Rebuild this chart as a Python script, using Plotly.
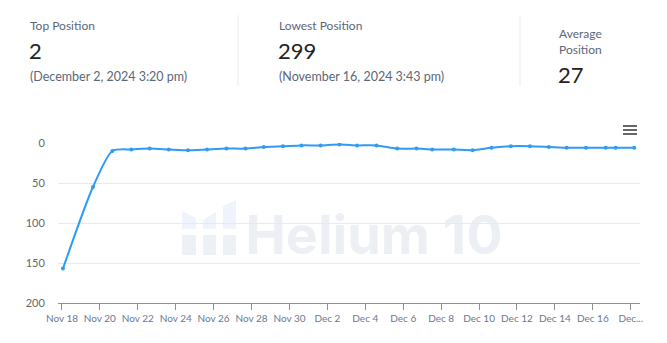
import plotly.graph_objects as go

# ---- data ----
dates = [
    "2024-11-18 01:15", "2024-11-19 15:15", "2024-11-20 15:50", "2024-11-21 15:50",
    "2024-11-22 15:05", "2024-11-23 15:10", "2024-11-24 15:35", "2024-11-25 15:40",
    "2024-11-26 16:15", "2024-11-27 16:20", "2024-11-28 15:25", "2024-11-29 15:50",
    "2024-11-30 15:10", "2024-12-01 15:20", "2024-12-02 15:20", "2024-12-03 13:40",
    "2024-12-04 14:10", "2024-12-05 16:20", "2024-12-06 16:50", "2024-12-07 12:40",
    "2024-12-08 16:05", "2024-12-09 15:50", "2024-12-10 15:50", "2024-12-11 16:20",
    "2024-12-12 16:20", "2024-12-13 16:20", "2024-12-14 14:50", "2024-12-15 15:20",
    "2024-12-16 16:20", "2024-12-17 04:50", "2024-12-18 04:20",
]
positions = [157, 55, 10, 8, 7, 8, 9, 8, 7, 7, 5, 4, 3, 3, 2, 3, 3, 7, 7, 8, 8, 9,
             6, 4, 4, 5, 6, 6, 6, 6, 6]

x_tick_vals = ["2024-11-18", "2024-11-20", "2024-11-22", "2024-11-24", "2024-11-26",
               "2024-11-28", "2024-11-30", "2024-12-02", "2024-12-04", "2024-12-06",
               "2024-12-08", "2024-12-10", "2024-12-12", "2024-12-14", "2024-12-16",
               "2024-12-18"]
x_tick_text = ["Nov 18", "Nov 20", "Nov 22", "Nov 24", "Nov 26", "Nov 28", "Nov 30",
               "Dec 2", "Dec 4", "Dec 6", "Dec 8", "Dec 10", "Dec 12", "Dec 14",
               "Dec 16", "Dec..."]
y_tick_vals = [0, 50, 100, 150, 200]

summary_labels = ["Top Position", "Lowest Position", "Average<br>Position"]
summary_values = ["2", "299", "27"]
summary_notes = ["(December 2, 2024 3:20 pm)", "(November 16, 2024 3:43 pm)", ""]

# ---- layout geometry ----
W, H = 667, 343
ML, MR, MT, MB = 58, 27, 143, 40
PW, PH = W - ML - MR, H - MT - MB


def px(x):
    return (x - ML) / PW


def py(y):
    return (H - MB - y) / PH


FONT = "Lato"
LABEL_C = "#5b6678"
VALUE_C = "#222222"

fig = go.Figure()
fig.add_trace(go.Scatter(
    x=dates, y=positions, mode="lines+markers",
    line=dict(color="#2f9bf2", width=2, shape="spline", smoothing=0.7),
    marker=dict(size=4, color="#2f9bf2"),
    hoverinfo="x+y", showlegend=False,
))

annotations = []
shapes = []

# header
cols_x = [28, 277, 557]
for i in range(3):
    if i < 2:
        annotations.append(dict(x=px(cols_x[i]), y=py(25), xref="paper", yref="paper",
                                text=summary_labels[i], showarrow=False, xanchor="left",
                                yanchor="middle", font=dict(family=FONT, size=12, color=LABEL_C)))
        annotations.append(dict(x=px(cols_x[i] - 1), y=py(50), xref="paper", yref="paper",
                                text=summary_values[i], showarrow=False, xanchor="left",
                                yanchor="middle", font=dict(family=FONT, size=22, color=VALUE_C)))
        annotations.append(dict(x=px(cols_x[i]), y=py(76), xref="paper", yref="paper",
                                text=summary_notes[i], showarrow=False, xanchor="left",
                                yanchor="middle", font=dict(family=FONT, size=12.5, color=LABEL_C)))
    else:
        annotations.append(dict(x=px(cols_x[i]), y=py(41), xref="paper", yref="paper",
                                text=summary_labels[i], showarrow=False, xanchor="left",
                                yanchor="middle", align="left",
                                font=dict(family=FONT, size=12, color=LABEL_C)))
        annotations.append(dict(x=px(cols_x[i] - 1), y=py(74), xref="paper", yref="paper",
                                text=summary_values[i], showarrow=False, xanchor="left",
                                yanchor="middle", font=dict(family=FONT, size=22, color=VALUE_C)))

for sx in (238, 520):
    shapes.append(dict(type="line", xref="paper", yref="paper", x0=px(sx), x1=px(sx),
                       y0=py(15), y1=py(86), line=dict(color="#e8ebef", width=1)))

# menu icon
for yy in (125, 129, 133):
    shapes.append(dict(type="rect", xref="paper", yref="paper", x0=px(623), x1=px(637),
                       y0=py(yy + 2), y1=py(yy), line=dict(width=0), fillcolor="#666666"))

# watermark logo
TOP_C = "#eef3fc"
BOT_C = "#edf0f4"
cols = [(182, 196, 211, 218), (203, 216, 220, 212), (223, 236, 206, 200)]
for (x0, x1, yl, yr) in cols:
    shapes.append(dict(type="rect", xref="paper", yref="paper", x0=px(x0), x1=px(x1),
                       y0=py(255), y1=py(235), line=dict(width=0), fillcolor=BOT_C, layer="below"))
    path = (f"M {px(x0)} {py(229)} L {px(x0)} {py(yl)} L {px(x1)} {py(yr)} "
            f"L {px(x1)} {py(229)} Z")
    shapes.append(dict(type="path", xref="paper", yref="paper", path=path,
                       line=dict(width=0), fillcolor=TOP_C, layer="below"))

shapes.append(dict(type="rect", xref="paper", yref="paper", x0=px(250), x1=px(498),
                   y0=py(262), y1=py(203), line=dict(width=0), fillcolor="rgba(0,0,0,0)",
                   layer="below",
                   label=dict(text="<b>Helium 10</b>", textposition="middle center",
                              font=dict(family="Inter", size=54, color="#ecf0f5"))))

fig.update_layout(
    width=W, height=H,
    margin=dict(l=ML, r=MR, t=MT, b=MB),
    paper_bgcolor="white", plot_bgcolor="white",
    font=dict(family=FONT),
    annotations=annotations, shapes=shapes,
    xaxis=dict(
        type="date", range=["2024-11-17 19:00", "2024-12-18 11:45"],
        tickvals=x_tick_vals, ticktext=x_tick_text,
        showgrid=False, zeroline=False,
        showline=True, linecolor="#8f8f8f", linewidth=1,
        ticks="outside", ticklen=6, tickcolor="#8f8f8f",
        tickfont=dict(family=FONT, size=10, color="#6b7891"),
    ),
    yaxis=dict(
        range=[200, 0], tickvals=y_tick_vals,
        showgrid=True, gridcolor="#e9e9e9", gridwidth=1, zeroline=False,
        ticks="outside", ticklen=10, tickcolor="rgba(0,0,0,0)",
        tickfont=dict(family=FONT, size=11, color="#666666"),
    ),
    hovermode="closest",
)

fig.write_html("out.html", config={"displayModeBar": False})
